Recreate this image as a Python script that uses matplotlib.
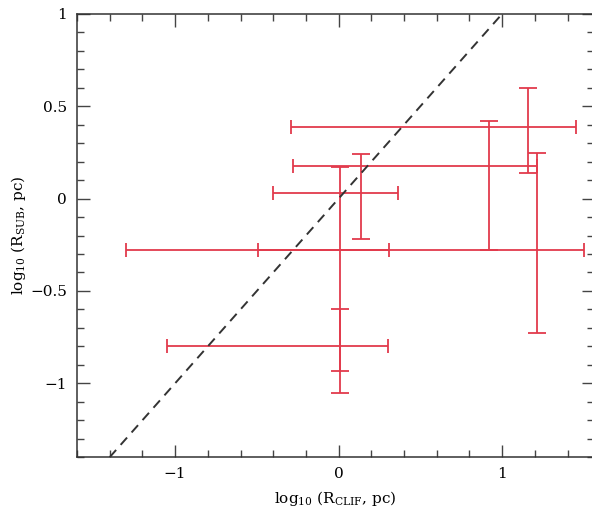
import matplotlib
matplotlib.use("Agg")
import matplotlib.pyplot as plt
from matplotlib.ticker import MultipleLocator, FixedLocator
import numpy as np

# Data: centres and absolute error ranges (log10 pc)
x_cen = [1.16, 0.92, 1.21, 0.01, 0.01, 0.135]
y_cen = [0.386, 0.174, -0.277, -0.277, -0.80, 0.03]
x_low = [-0.29, -0.28, -0.49, -1.30, -1.05, -0.40]
x_high = [1.45, 1.21, 1.50, 0.31, 0.30, 0.36]
y_low = [0.14, -0.28, -0.73, -1.05, -0.935, -0.22]
y_high = [0.60, 0.42, 0.245, 0.17, -0.60, 0.24]

one_to_one = [-1.4, 1.0]

xticks = [-1, 0, 1]
xtick_labels = ["\u22121", "0", "1"]
yticks = [-1, -0.5, 0, 0.5, 1]
ytick_labels = ["\u22121", "\u22120.5", "0", "0.5", "1"]

plt.rcParams['font.family'] = ['DejaVu Serif']
plt.rcParams['mathtext.fontset'] = 'dejavuserif'

fig = plt.figure(figsize=(5.92, 5.12), dpi=100)
ax = fig.add_axes([0.130, 0.107, 0.873, 0.866])

xc = np.array(x_cen); yc = np.array(y_cen)
xerr = np.vstack([xc - np.array(x_low), np.array(x_high) - xc])
yerr = np.vstack([yc - np.array(y_low), np.array(y_high) - yc])

red = '#e23a4c'
ax.errorbar(xc, yc, xerr=xerr, fmt='none', ecolor=red, elinewidth=1.3,
            capsize=5.0, capthick=1.3)
ax.errorbar(xc, yc, yerr=yerr, fmt='none', ecolor=red, elinewidth=1.3,
            capsize=6.8, capthick=1.3)

ax.plot(one_to_one, one_to_one, color='#333333', lw=1.4, ls=(0, (5, 3.5)))

ax.set_xlim(-1.6, 1.56)
ax.set_ylim(-1.4, 1.0)

ax.xaxis.set_major_locator(FixedLocator(xticks))
ax.set_xticklabels(xtick_labels)
ax.yaxis.set_major_locator(FixedLocator(yticks))
ax.set_yticklabels(ytick_labels)
ax.xaxis.set_minor_locator(MultipleLocator(0.2))
ax.yaxis.set_minor_locator(MultipleLocator(0.1))

ax.tick_params(which='both', direction='in', top=True, right=True,
               color='#444444', width=1.0, labelsize=11, pad=7)
ax.tick_params(which='major', length=9)
ax.tick_params(which='minor', length=5)
for s in ax.spines.values():
    s.set_color('#333333')
    s.set_linewidth(1.1)

ax.set_xlabel(r'log$_{10}$ (R$_{\rm CLIF}$, pc)', fontsize=11, labelpad=6)
ax.set_ylabel(r'log$_{10}$ (R$_{\rm SUB}$, pc)', fontsize=11)
ax.yaxis.set_label_coords(-0.094, 0.5)

fig.savefig('out.png', dpi=100)
